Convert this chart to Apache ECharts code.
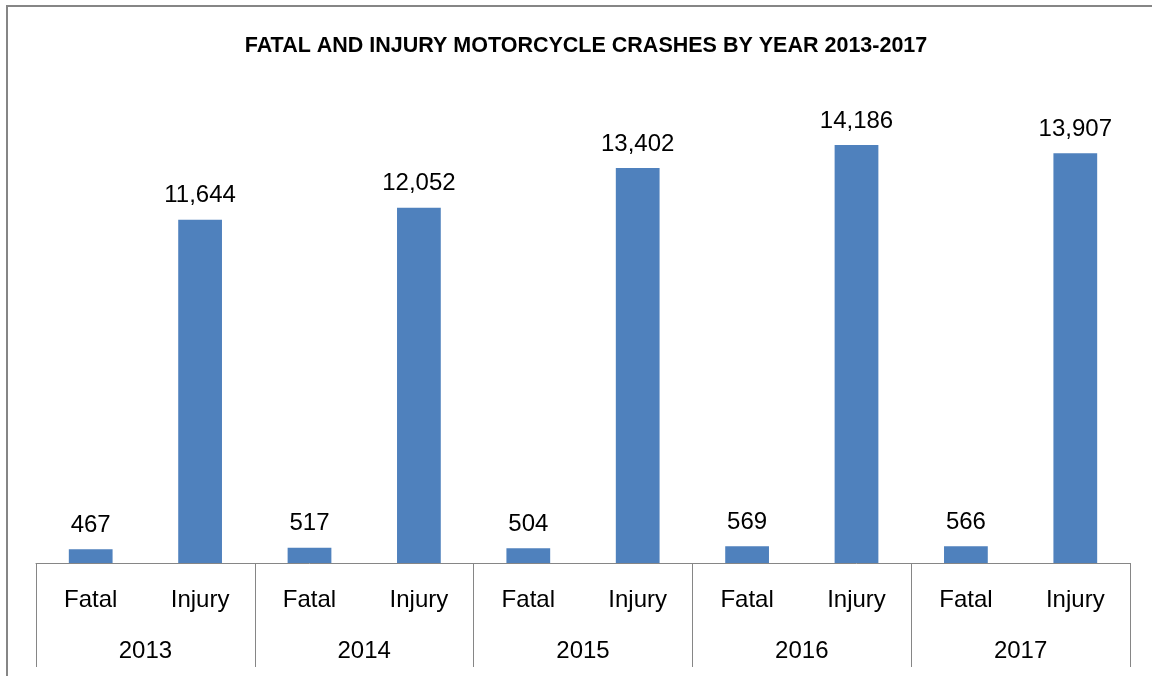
<!DOCTYPE html>
<html>
<head>
<meta charset="utf-8">
<script src="https://cdn.jsdelivr.net/npm/echarts@6/dist/echarts.min.js"></script>
<style>
  html, body { margin: 0; padding: 0; background: #fff; }
  #main { width: 1152px; height: 676px; }
</style>
</head>
<body>
<div id="main"></div>
<script>
// data
var years = ['2013', '2014', '2015', '2016', '2017'];
var kinds = ['Fatal', 'Injury'];
var fatal = [467, 517, 504, 569, 566];
var injury = [11644, 12052, 13402, 14186, 13907];

var cats = [];
var values = [];
for (var i = 0; i < years.length; i++) {
    cats.push(kinds[0], kinds[1]);
    values.push(fatal[i], injury[i]);
}

function withComma(n) {
    return String(n).replace(/\B(?=(\d{3})+(?!\d))/g, ',');
}

var font = '"Liberation Sans", Arial, sans-serif';
var gray = '#868686';

var myChart = echarts.init(document.getElementById('main'));
myChart.setOption({
    animation: false,
    title: {
        text: 'FATAL AND INJURY MOTORCYCLE CRASHES BY YEAR 2013-2017',
        left: 581,
        textAlign: 'center',
        top: 30,
        textStyle: { fontFamily: font, fontSize: 21.5, fontWeight: 'bold', color: '#000' }
    },
    graphic: [{
        type: 'rect',
        shape: { x: 7, y: 6, width: 1300, height: 900 },
        style: { fill: 'none', stroke: gray, lineWidth: 2 },
        silent: true
    }],
    grid: { left: 36, right: 22, top: 91.5, bottom: 113 },
    xAxis: [{
        type: 'category',
        data: cats,
        axisLine: { lineStyle: { color: gray, width: 1 } },
        axisTick: { show: false },
        axisLabel: { interval: 0, margin: 25, fontFamily: font, fontSize: 24, color: '#000' }
    }, {
        type: 'category',
        data: years,
        position: 'bottom',
        axisLine: { show: false },
        axisTick: { show: true, length: 104, lineStyle: { color: gray, width: 1 } },
        axisLabel: { interval: 0, margin: 76, fontFamily: font, fontSize: 24, color: '#000' }
    }],
    yAxis: {
        type: 'value',
        min: 0,
        max: 16000,
        show: false
    },
    series: [{
        type: 'bar',
        data: values,
        xAxisIndex: 0,
        barWidth: '40%',
        itemStyle: { color: '#4F81BD' },
        label: {
            show: true,
            position: 'top',
            distance: 12,
            fontFamily: font,
            fontSize: 24,
            color: '#000',
            formatter: function (p) { return withComma(p.value); }
        }
    }]
});
</script>
</body>
</html>
